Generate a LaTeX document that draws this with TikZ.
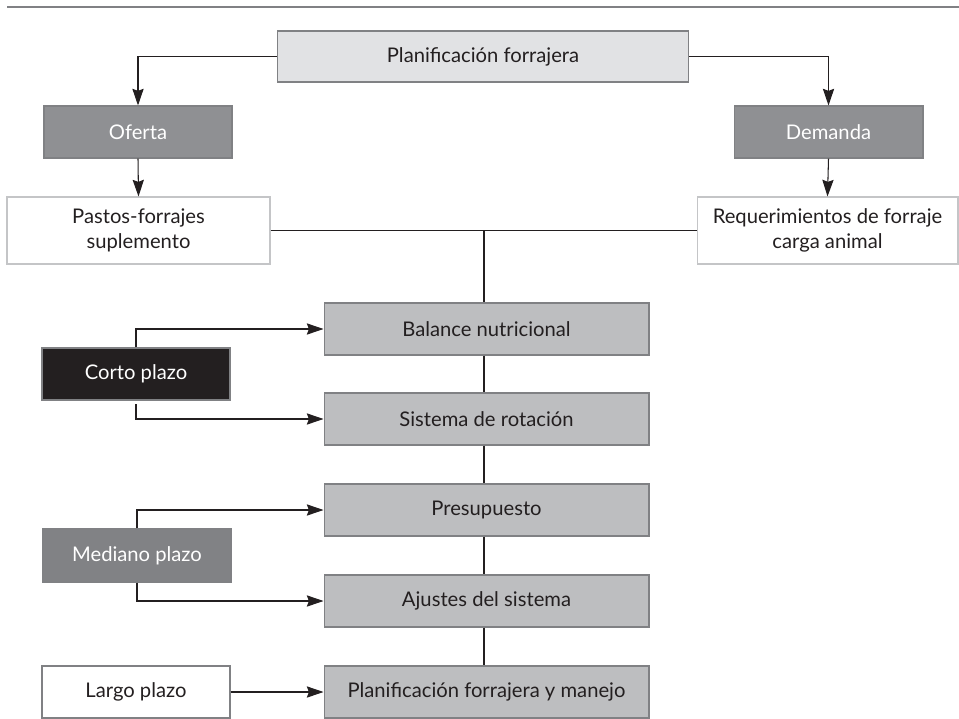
\documentclass[tikz,border=0pt]{standalone}
\usepackage{fontspec}
\setmainfont{Lato}
\usetikzlibrary{arrows.meta}

\definecolor{inkblack}{HTML}{231F20}
\definecolor{lineGray}{HTML}{808184}
\definecolor{paleLine}{HTML}{C4C5C7}
\definecolor{topFill}{HTML}{E1E2E4}
\definecolor{midFill}{HTML}{BDBEC0}
\definecolor{darkFill}{HTML}{8F9093}
\definecolor{medFill}{HTML}{818285}

\begin{document}
\begin{tikzpicture}[x=0.02cm, y=-0.02cm, line width=0.6pt,
	>={Stealth[length=9.5pt,width=6.4pt,inset=1.2pt]},
	box/.style={draw=lineGray, minimum width=3.76cm, minimum height=1.04cm,
		inner sep=0pt, align=center, text=inkblack, font=\fontsize{11.5}{14}\selectfont},
	stepbox/.style={box, fill=midFill, minimum width=6.5cm}]
		\useasboundingbox (0,0) rectangle (959,719);
		\draw [lineGray] (7,7) -- (959,7);

		\draw (483,56.5) node[box, fill=topFill, minimum width=8.24cm, minimum height=1.02cm] (plan) {Planificación forrajera};

		\draw (138,132) node[box, fill=darkFill, text=white] (oferta) {Oferta};
		\draw (828.5,132) node[box, fill=darkFill, text=white, minimum width=3.78cm] (demanda) {Demanda};

		\draw (138.5,230.5) node[box, draw=paleLine, minimum width=5.26cm, minimum height=1.34cm] (pastos) {Pastos-forrajes\\suplemento};
		\draw (827.5,230.5) node[box, draw=paleLine, minimum width=5.22cm, minimum height=1.34cm] (req) {Requerimientos de forraje\\carga animal};

		\draw (486.5,329) node[stepbox] (balance) {Balance nutricional};
		\draw (486.5,419) node[stepbox] (rotacion) {Sistema de rotación};
		\draw (486.5,510) node[stepbox] (presup) {Presupuesto};
		\draw (486.5,601) node[stepbox] (ajustes) {Ajustes del sistema};
		\draw (486.5,692) node[stepbox] (manejo) {Planificación forrajera y manejo};

		\draw (136,374) node[box, fill=inkblack, text=white] (corto) {Corto plazo};
		\draw (137,555.5) node[box, fill=medFill, text=white, minimum height=1.06cm] (mediano) {Mediano plazo};
		\draw (136,692) node[box] (largo) {Largo plazo};

		\coordinate (hub) at (484,0 |- pastos.east);

		\draw [->, inkblack] (plan.west) -| (oferta.north);
		\draw [->, inkblack] (plan.east) -| (demanda.north);
		\draw [->, inkblack] (oferta.south) -- (pastos.north);
		\draw [->, inkblack] (demanda.south) -- (req.north);

		\draw [inkblack] (pastos.east) -- (req.west);
		\draw [inkblack] (hub) -- (hub |- balance.north);
		\draw [inkblack] (hub |- balance.south) -- (hub |- rotacion.north);
		\draw [inkblack] (hub |- rotacion.south) -- (hub |- presup.north);
		\draw [inkblack] (hub |- presup.south) -- (hub |- ajustes.north);
		\draw [inkblack] (hub |- ajustes.south) -- (hub |- manejo.north);

		\draw [->, inkblack] (corto.north) |- (balance.west);
		\draw [->, inkblack, shorten <=2pt] (corto.south) |- (rotacion.west);
		\draw [->, inkblack] (mediano.north) |- (presup.west);
		\draw [->, inkblack] (mediano.south) |- (ajustes.west);
		\draw [->, inkblack] (largo.east) -- (manejo.west);
	\end{tikzpicture}
\end{document}
